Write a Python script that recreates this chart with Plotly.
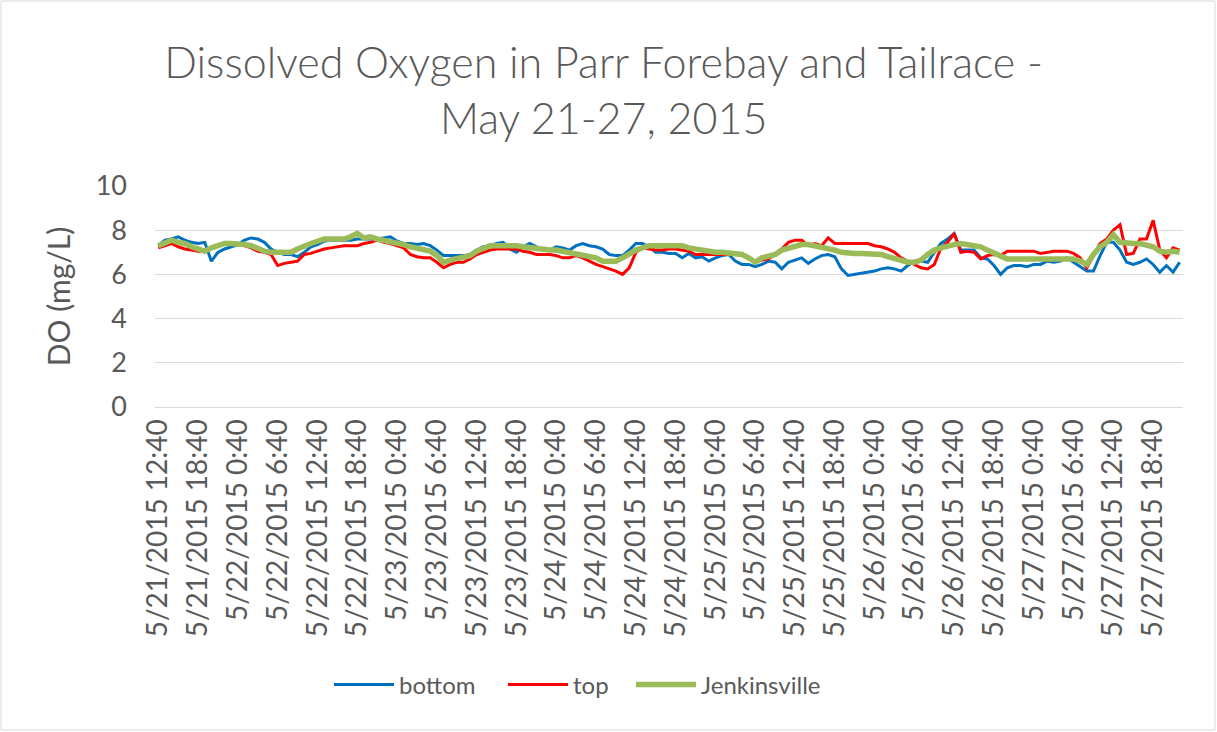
import pandas as pd
import plotly.graph_objects as go

# hourly timestamps 5/21/2015 12:40 -> 5/27/2015 22:40
stamps = pd.date_range("2015-05-21 12:40", periods=155, freq="h")
categories = [f"{t.month}/{t.day}/{t.year} {t.hour}:{t.minute:02d}" for t in stamps]

bottom = [
    7.3, 7.55, 7.6, 7.7, 7.55, 7.45, 7.4, 7.45, 6.6, 7.0,
    7.15, 7.25, 7.35, 7.55, 7.65, 7.6, 7.45, 7.15, 7.0, 6.9,
    6.9, 6.8, 7.0, 7.25, 7.35, 7.5, 7.55, 7.55, 7.55, 7.55,
    7.6, 7.6, 7.6, 7.6, 7.65, 7.7, 7.5, 7.4, 7.4, 7.35,
    7.4, 7.3, 7.1, 6.85, 6.85, 6.85, 6.85, 6.9, 7.1, 7.25,
    7.3, 7.4, 7.45, 7.15, 7.0, 7.25, 7.4, 7.25, 7.1, 7.1,
    7.25, 7.2, 7.1, 7.3, 7.4, 7.3, 7.25, 7.15, 6.9, 6.85,
    6.85, 7.1, 7.4, 7.4, 7.25, 7.0, 7.0, 6.95, 6.95, 6.75,
    6.95, 6.75, 6.8, 6.6, 6.75, 6.85, 6.9, 6.6, 6.45, 6.45,
    6.35, 6.45, 6.6, 6.55, 6.25, 6.55, 6.65, 6.75, 6.5, 6.7,
    6.85, 6.9, 6.8, 6.25, 5.95, 6.0, 6.05, 6.1, 6.15, 6.25,
    6.3, 6.25, 6.15, 6.4, 6.6, 6.6, 6.55, 7.0, 7.4, 7.6,
    7.85, 7.1, 7.1, 7.1, 6.75, 6.7, 6.4, 6.0, 6.3, 6.4,
    6.4, 6.35, 6.45, 6.45, 6.6, 6.55, 6.6, 6.75, 6.55, 6.35,
    6.15, 6.15, 6.85, 7.45, 7.45, 7.1, 6.55, 6.45, 6.55, 6.7,
    6.45, 6.1, 6.4, 6.1, 6.55,
]

top = [
    7.2, 7.3, 7.4, 7.25, 7.15, 7.1, 7.05, 7.05, 7.2, 7.35,
    7.4, 7.4, 7.35, 7.3, 7.2, 7.05, 7.0, 6.9, 6.4, 6.5,
    6.55, 6.6, 6.9, 6.95, 7.05, 7.15, 7.2, 7.25, 7.3, 7.3,
    7.3, 7.4, 7.45, 7.55, 7.45, 7.4, 7.3, 7.2, 6.9, 6.8,
    6.75, 6.75, 6.55, 6.3, 6.45, 6.55, 6.55, 6.7, 6.9, 7.0,
    7.1, 7.15, 7.15, 7.15, 7.15, 7.05, 7.0, 6.9, 6.9, 6.9,
    6.85, 6.75, 6.75, 6.85, 6.75, 6.6, 6.45, 6.35, 6.25, 6.15,
    6.0, 6.3, 7.0, 7.2, 7.15, 7.1, 7.1, 7.15, 7.15, 7.1,
    7.05, 6.9, 6.9, 6.9, 6.9, 6.9, 6.9, 6.95, 6.9, 6.7,
    6.55, 6.65, 6.7, 6.9, 7.15, 7.45, 7.55, 7.55, 7.3, 7.4,
    7.3, 7.65, 7.4, 7.4, 7.4, 7.4, 7.4, 7.4, 7.3, 7.25,
    7.15, 7.0, 6.75, 6.6, 6.45, 6.3, 6.25, 6.45, 7.2, 7.45,
    7.85, 7.0, 7.05, 7.0, 6.7, 6.85, 6.9, 6.85, 7.05, 7.05,
    7.05, 7.05, 7.05, 6.95, 7.0, 7.05, 7.05, 7.05, 6.95, 6.75,
    6.3, 6.85, 7.4, 7.6, 8.0, 8.25, 6.9, 6.95, 7.6, 7.6,
    8.45, 7.1, 6.75, 7.2, 7.1,
]

jenkinsville = [
    7.3, 7.45, 7.55, 7.45, 7.4, 7.25, 7.15, 7.05, 7.2, 7.3,
    7.4, 7.4, 7.4, 7.35, 7.3, 7.15, 7.05, 7.0, 7.0, 6.95,
    7.0, 7.15, 7.3, 7.4, 7.5, 7.6, 7.6, 7.6, 7.6, 7.7,
    7.85, 7.65, 7.7, 7.6, 7.55, 7.5, 7.4, 7.35, 7.25, 7.2,
    7.15, 7.05, 6.85, 6.55, 6.65, 6.7, 6.75, 6.85, 7.05, 7.2,
    7.3, 7.3, 7.3, 7.35, 7.3, 7.25, 7.2, 7.15, 7.1, 7.1,
    7.1, 7.05, 7.0, 6.95, 6.9, 6.85, 6.75, 6.6, 6.6, 6.6,
    6.75, 6.95, 7.1, 7.2, 7.3, 7.3, 7.3, 7.3, 7.3, 7.3,
    7.2, 7.15, 7.05, 7.0, 7.0, 7.0, 6.95, 6.9, 6.9, 6.75,
    6.55, 6.75, 6.8, 6.9, 7.1, 7.2, 7.3, 7.35, 7.35, 7.3,
    7.25, 7.15, 7.1, 7.0, 6.95, 6.95, 6.95, 6.95, 6.9, 6.9,
    6.8, 6.7, 6.6, 6.55, 6.55, 6.65, 6.9, 7.1, 7.2, 7.3,
    7.35, 7.4, 7.35, 7.3, 7.25, 7.1, 6.95, 6.8, 6.7, 6.7,
    6.7, 6.7, 6.7, 6.75, 6.75, 6.75, 6.75, 6.75, 6.7, 6.6,
    6.45, 6.9, 7.25, 7.45, 7.8, 7.45, 7.4, 7.4, 7.4, 7.35,
    7.25, 7.05, 7.0, 7.05, 7.0,
]

y_ticks = [0, 2, 4, 6, 8, 10]
tick_labels = categories[::6]

FONT = "Lato"
GRAY = "#595959"
W, H = 1217, 732
ML, MR, MT, MB = 155, 34, 186, 325
PW, PH = W - ML - MR, H - MT - MB

series = [
    ("bottom", bottom, "#0070C0", 3, "legend", 333),
    ("top", top, "#FF0000", 3, "legend2", 507),
    ("Jenkinsville", jenkinsville, "#9BBB59", 5.5, "legend3", 635),
]

fig = go.Figure()
legends = {}
for name, vals, color, width, leg, lx in series:
    fig.add_trace(go.Scatter(x=categories, y=vals, name=name, mode="lines",
                             line=dict(color=color, width=width), legend=leg))
    legends[leg] = dict(orientation="h", xref="container", yref="container",
                        x=(lx - 4) / W, xanchor="left",
                        y=1 - 685 / H, yanchor="middle",
                        font=dict(family=FONT, size=24, color=GRAY),
                        itemwidth=60, bgcolor="rgba(0,0,0,0)")

fig.update_layout(
    width=W, height=H,
    margin=dict(l=ML, r=MR, t=MT, b=MB, autoexpand=False),
    paper_bgcolor="white", plot_bgcolor="white",
    font=dict(family=FONT, color=GRAY),
    title=dict(text="Dissolved Oxygen in Parr Forebay and Tailrace -<br>May 21-27, 2015",
               x=0.496, xanchor="center", xref="container",
               y=1 - 78 / H, yanchor="middle", yref="container",
               font=dict(family=FONT, size=43, color=GRAY, weight=300)),
    showlegend=True,
    **legends,
    xaxis=dict(type="category", categoryorder="array", categoryarray=categories,
               range=[-0.5, len(categories) - 0.5], automargin=False,
               tickmode="array", tickvals=tick_labels, ticktext=tick_labels,
               tickangle=-90, tickfont=dict(family=FONT, size=28, color=GRAY),
               showgrid=False, showline=True, linecolor="#D9D9D9", linewidth=1,
               ticks="", zeroline=False),
    yaxis=dict(range=[0, 10], tickvals=y_ticks, showgrid=True, gridcolor="#D9D9D9",
               gridwidth=1, zeroline=False, showline=False, ticks="", automargin=False,
               tickfont=dict(family=FONT, size=27, color=GRAY),
               ticklabelstandoff=27,
               title=dict(text="DO (mg/L)", font=dict(family=FONT, size=30, color=GRAY),
                          standoff=16)),
)

fig.add_shape(type="rect", xref="paper", yref="paper",
              x0=(1 - ML) / PW, x1=(W - 2 - ML) / PW,
              y0=(H - MB - (H - 2)) / PH, y1=(H - MB - 1) / PH,
              line=dict(color="#D9D9D9", width=1), fillcolor="rgba(0,0,0,0)", layer="below")

fig.write_html("out.html", config={"displayModeBar": False},
               post_script="document.body.style.margin='0';document.body.style.overflow='hidden';")
